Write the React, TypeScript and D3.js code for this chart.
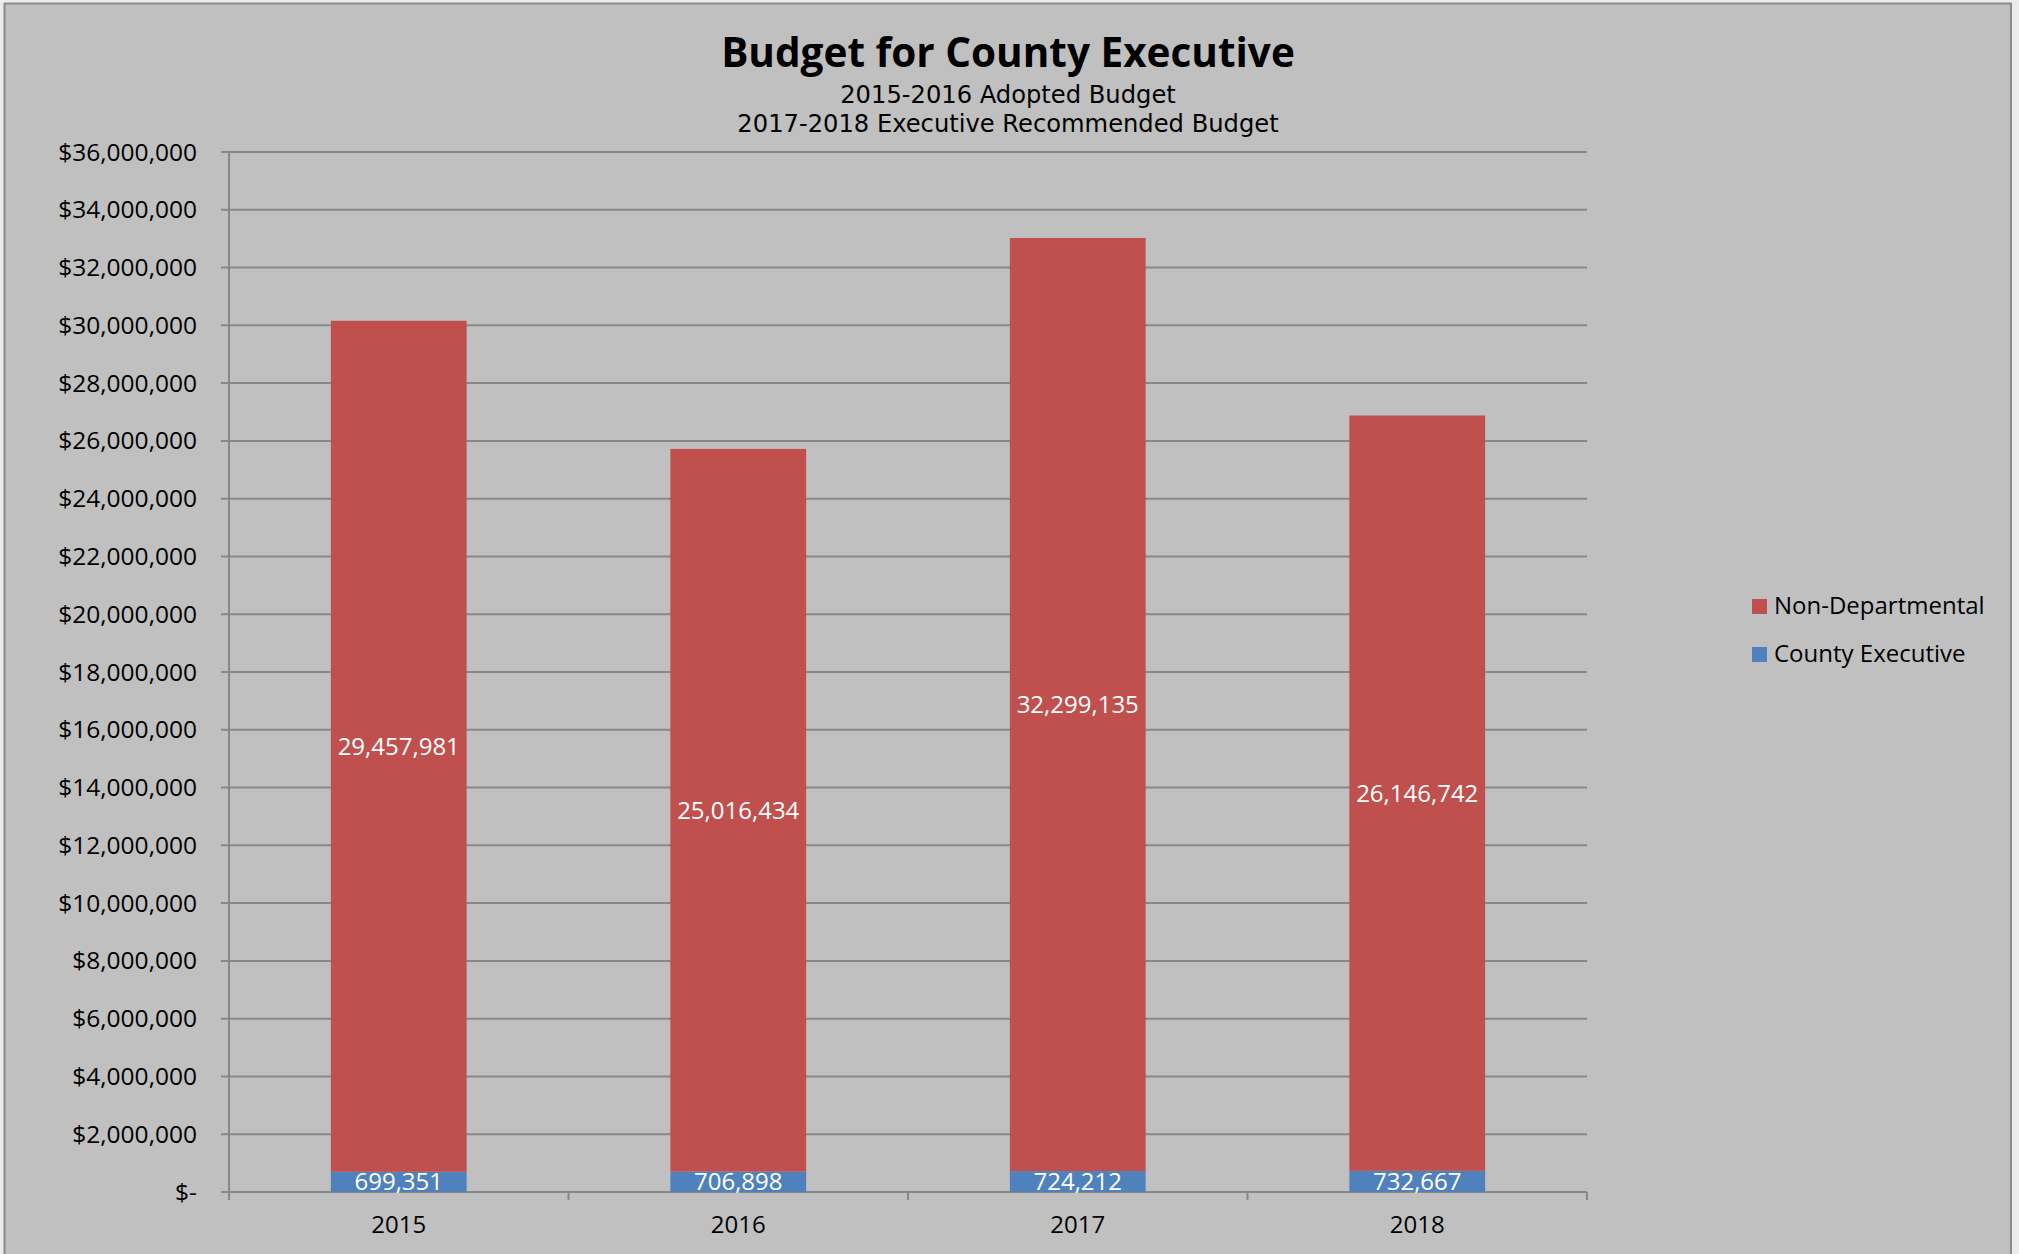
import { useEffect, useRef } from "react";
import * as d3 from "d3";

// Chart data
const years = ["2015", "2016", "2017", "2018"];
const countyExecutive = [699351, 706898, 724212, 732667];
const nonDepartmental = [29457981, 25016434, 32299135, 26146742];
const yTicks = d3.range(0, 36000001, 2000000);

const seriesNames = ["Non-Departmental", "County Executive"];
const seriesColors = ["#C0504D", "#4F81BD"];
const subtitleLines = ["2015-2016 Adopted Budget", "2017-2018 Executive Recommended Budget"];

export default function App() {
    const svgRef = useRef<SVGSVGElement | null>(null);

    useEffect(() => {
        document.body.style.margin = "0";

        const width = 2019;
        const height = 1254;
        const marginLeft = 229;
        const marginRight = 2019 - 1587;
        const marginTop = 152;
        const baseline = 1192;
        const font = "'Open Sans', 'Noto Sans', sans-serif";
        const gridColor = "#888888";

        const svg = d3.select(svgRef.current)
            .attr("width", width)
            .attr("height", height)
            .attr("viewBox", [0, 0, width, height].join(" "));
        svg.selectAll("*").remove();

        // background + chart border
        svg.append("rect").attr("width", width).attr("height", height).attr("fill", "#ececec");
        svg.append("rect")
            .attr("x", 4.5).attr("y", 3.5)
            .attr("width", 2011 - 4.5).attr("height", height + 20)
            .attr("fill", "#C0C0C0")
            .attr("stroke", "#8a8a8a")
            .attr("stroke-width", 2);

        const x = d3.scaleBand<string>()
            .domain(years)
            .range([marginLeft, width - marginRight])
            .padding(0);

        const y = d3.scaleLinear()
            .domain([0, 36000000])
            .range([baseline, marginTop]);

        // horizontal gridlines
        svg.append("g")
            .selectAll("line")
            .data(yTicks)
            .join("line")
            .attr("x1", marginLeft - 8)
            .attr("x2", width - marginRight)
            .attr("y1", d => y(d))
            .attr("y2", d => y(d))
            .attr("stroke", gridColor)
            .attr("stroke-width", 2);

        // y tick labels
        const fmt = d3.format(",");
        svg.append("g")
            .selectAll("text")
            .data(yTicks)
            .join("text")
            .attr("x", 197)
            .attr("y", d => y(d))
            .attr("dy", "0.35em")
            .attr("text-anchor", "end")
            .attr("font-family", font)
            .attr("font-size", 24.5)
            .attr("fill", "#000")
            .text(d => (d === 0 ? "$-" : "$" + fmt(d)));

        // axis lines
        svg.append("line")
            .attr("x1", marginLeft).attr("x2", marginLeft)
            .attr("y1", marginTop).attr("y2", baseline)
            .attr("stroke", gridColor).attr("stroke-width", 2);
        svg.append("line")
            .attr("x1", marginLeft).attr("x2", width - marginRight)
            .attr("y1", baseline).attr("y2", baseline)
            .attr("stroke", gridColor).attr("stroke-width", 2);

        // category tick marks on x axis
        const boundaries = years.map(d => x(d) as number).concat([width - marginRight]);
        svg.append("g")
            .selectAll("line")
            .data(boundaries)
            .join("line")
            .attr("x1", d => d).attr("x2", d => d)
            .attr("y1", baseline).attr("y2", baseline + 8)
            .attr("stroke", gridColor).attr("stroke-width", 2);

        // x labels
        svg.append("g")
            .selectAll("text")
            .data(years)
            .join("text")
            .attr("x", d => (x(d) as number) + x.bandwidth() / 2)
            .attr("y", 1233)
            .attr("text-anchor", "middle")
            .attr("font-family", font)
            .attr("font-size", 24)
            .attr("fill", "#000")
            .text(d => d);

        // stacked bars
        const rows = years.map((yr, i) => ({ year: yr, ce: countyExecutive[i], nd: nonDepartmental[i] }));
        const barW = x.bandwidth() * 0.4;
        const bx = (d: { year: string }) => (x(d.year) as number) + (x.bandwidth() - barW) / 2;

        const bars = svg.append("g");
        bars.selectAll("rect.ce")
            .data(rows)
            .join("rect")
            .attr("class", "ce")
            .attr("x", bx)
            .attr("width", barW)
            .attr("y", d => y(d.ce))
            .attr("height", d => y(0) - y(d.ce))
            .attr("fill", seriesColors[1]);
        bars.selectAll("rect.nd")
            .data(rows)
            .join("rect")
            .attr("class", "nd")
            .attr("x", bx)
            .attr("width", barW)
            .attr("y", d => y(d.ce + d.nd))
            .attr("height", d => y(d.ce) - y(d.ce + d.nd))
            .attr("fill", seriesColors[0]);

        // data labels
        const labels = svg.append("g")
            .attr("font-family", font)
            .attr("font-size", 24)
            .attr("fill", "#fff")
            .attr("text-anchor", "middle");
        labels.selectAll("text.nd")
            .data(rows)
            .join("text")
            .attr("class", "nd")
            .attr("x", d => bx(d) + barW / 2)
            .attr("y", d => y(d.ce + d.nd / 2))
            .attr("dy", "0.35em")
            .text(d => fmt(d.nd));
        labels.selectAll("text.ce")
            .data(rows)
            .join("text")
            .attr("class", "ce")
            .attr("x", d => bx(d) + barW / 2)
            .attr("y", d => y(d.ce / 2))
            .attr("dy", "0.35em")
            .text(d => fmt(d.ce));

        // title
        svg.append("text")
            .attr("x", 1008).attr("y", 67)
            .attr("text-anchor", "middle")
            .attr("font-family", font)
            .attr("font-weight", "bold")
            .attr("font-size", 40.5)
            .text("Budget for County Executive");

        // subtitle lines (tighter-metric font so the two lines don't collide)
        svg.append("g")
            .selectAll("text")
            .data(subtitleLines)
            .join("text")
            .attr("x", 1008)
            .attr("y", (_, i) => 103 + i * 29)
            .attr("text-anchor", "middle")
            .attr("font-family", "'DejaVu Sans', sans-serif")
            .attr("font-size", 24.2)
            .text(d => d);

        // legend
        const legend = svg.append("g")
            .selectAll("g")
            .data(seriesNames)
            .join("g")
            .attr("transform", (_, i) => `translate(1752,${599 + i * 48})`);
        legend.append("rect")
            .attr("width", 15).attr("height", 15)
            .attr("fill", (_, i) => seriesColors[i]);
        legend.append("text")
            .attr("x", 22).attr("y", 15)
            .attr("font-family", font)
            .attr("font-size", 24)
            .attr("fill", "#000")
            .text(d => d);
    }, []);

    return (
        <div style={{ position: "absolute", left: 0, top: 0 }}>
            <svg ref={svgRef} style={{ display: "block" }} />
        </div>
    );
}
